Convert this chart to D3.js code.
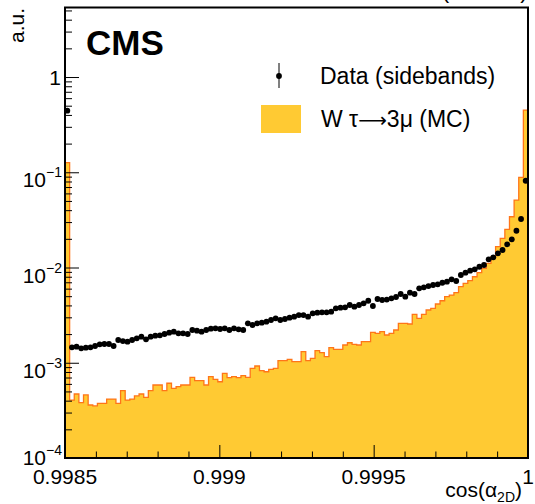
<!DOCTYPE html>
<html><head><meta charset="utf-8">
<script src="https://cdn.jsdelivr.net/npm/d3@7"></script>
<style>
body{margin:0;background:#fff}
svg{display:block}
text{font-family:"Liberation Sans",Arial,Helvetica,sans-serif;fill:#000}
</style>
</head><body>
<svg id="c" width="535" height="504"></svg>
<script>
// ---------------- data ----------------
const xMin = 0.9985, xMax = 1.0, nBins = 100;

// Data (sidebands), one value per bin
const dataValues = [
0.443, 1.452e-3, 1.474e-3, 1.419e-3, 1.439e-3, 1.452e-3, 1.500e-3, 1.563e-3, 1.574e-3, 1.574e-3,
1.500e-3, 1.734e-3, 1.690e-3, 1.663e-3, 1.734e-3, 1.806e-3, 1.877e-3, 1.762e-3, 1.877e-3, 1.923e-3,
1.941e-3, 2.004e-3, 2.068e-3, 2.118e-3, 2.037e-3, 2.037e-3, 2.004e-3, 2.208e-3, 2.170e-3, 2.118e-3,
2.208e-3, 2.278e-3, 2.301e-3, 2.262e-3, 2.301e-3, 2.208e-3, 2.301e-3, 2.244e-3, 2.208e-3, 2.594e-3,
2.490e-3, 2.594e-3, 2.634e-3, 2.698e-3, 2.812e-3, 2.931e-3, 2.812e-3, 2.880e-3, 2.972e-3, 3.045e-3,
3.170e-3, 3.170e-3, 3.045e-3, 3.304e-3, 3.354e-3, 3.387e-3, 3.387e-3, 3.436e-3, 3.730e-3, 3.784e-3,
3.821e-3, 4.040e-3, 3.877e-3, 4.040e-3, 4.210e-3, 4.480e-3, 3.945e-3, 4.670e-3, 4.560e-3, 4.610e-3,
4.750e-3, 4.900e-3, 5.270e-3, 4.940e-3, 5.440e-3, 5.270e-3, 6.050e-3, 6.200e-3, 6.390e-3, 6.550e-3,
6.660e-3, 6.920e-3, 7.100e-3, 7.520e-3, 7.220e-3, 8.340e-3, 8.820e-3, 9.260e-3, 9.570e-3, 1.019e-2,
1.062e-2, 1.219e-2, 1.279e-2, 1.409e-2, 1.527e-2, 1.752e-2, 1.977e-2, 2.433e-2, 3.230e-2, 8.150e-2
];

// W tau->3mu (MC), one value per bin
const mcValues = [
0.126, 4.06e-4, 4.70e-4, 3.81e-4, 4.59e-4, 3.60e-4, 3.52e-4, 3.75e-4, 3.75e-4, 4.16e-4,
4.16e-4, 3.75e-4, 5.09e-4, 4.06e-4, 4.16e-4, 4.48e-4, 4.70e-4, 4.34e-4, 5.09e-4, 5.84e-4,
5.84e-4, 5.09e-4, 6.09e-4, 5.39e-4, 5.61e-4, 5.84e-4, 5.84e-4, 7.03e-4, 6.48e-4, 6.48e-4,
5.84e-4, 7.14e-4, 6.70e-4, 6.32e-4, 7.75e-4, 6.97e-4, 7.14e-4, 6.97e-4, 7.31e-4, 7.03e-4,
8.74e-4, 9.25e-4, 8.25e-4, 8.05e-4, 8.53e-4, 8.74e-4, 1.051e-3, 1.051e-3, 1.087e-3, 1.026e-3,
1.026e-3, 1.306e-3, 1.051e-3, 1.113e-3, 1.338e-3, 1.275e-3, 1.157e-3, 1.439e-3, 1.384e-3, 1.384e-3,
1.536e-3, 1.623e-3, 1.563e-3, 1.536e-3, 1.663e-3, 1.663e-3, 2.088e-3, 2.037e-3, 2.118e-3, 1.956e-3,
2.037e-3, 2.208e-3, 2.594e-3, 2.594e-3, 2.552e-3, 3.226e-3, 2.931e-3, 3.226e-3, 3.580e-3, 3.730e-3,
4.140e-3, 4.480e-3, 4.940e-3, 5.140e-3, 5.440e-3, 6.290e-3, 6.830e-3, 7.270e-3, 8.000e-3, 8.820e-3,
9.810e-3, 1.107e-2, 1.298e-2, 1.654e-2, 2.025e-2, 2.518e-2, 3.410e-2, 5.110e-2, 8.850e-2, 0.450
];

const xTickValues = [0.9985, 0.999, 0.9995, 1.0];
const xTickLabels = ["0.9985", "0.999", "0.9995", "1"];
const yTickValues = [1e-4, 1e-3, 1e-2, 1e-1, 1];
const yTickBase = ["10", "10", "10", "10", "1"];
const yTickExp = ["\u22124", "\u22123", "\u22122", "\u22121", ""];
const legendLabels = ["Data (sidebands)", ["W \u03c4", "\u27f6", "3\u03bc (MC)"]];
const yMaxValue = 5.37;

// ---------------- layout ----------------
const L = 65, R = 528, T = 7.5, B = 458;
const svg = d3.select("#c");
const x = d3.scaleLinear().domain([xMin, xMax]).range([L, R]);
const y = d3.scaleLog().domain([1e-4, yMaxValue]).range([B, T]);
const binW = (xMax - xMin) / nBins;
const edges = d3.range(nBins + 1).map(i => xMin + i * binW);

const fillCol = "#ffca33", lineCol = "#ff7518";

svg.append("defs").append("clipPath").attr("id", "plotclip")
  .append("rect").attr("x", L).attr("y", T).attr("width", R - L).attr("height", B - T);

// MC histogram (step)
const pts = [[x(edges[0]), y(1e-4)]];
mcValues.forEach((v, i) => {
  pts.push([x(edges[i]), y(v)]);
  pts.push([x(edges[i + 1]), y(v)]);
});
pts.push([x(edges[nBins]), y(1e-4)]);
const line = d3.line();
const g = svg.append("g").attr("clip-path", "url(#plotclip)");
g.append("path").attr("d", line(pts) + "Z").attr("fill", fillCol).attr("stroke", "none");
g.append("path").attr("d", line(pts)).attr("fill", "none")
  .attr("stroke", lineCol).attr("stroke-width", 1.3).attr("stroke-linejoin", "miter");

// Data points
g.selectAll("circle.d").data(dataValues).join("circle")
  .attr("class", "d")
  .attr("cx", (d, i) => x(edges[i] + binW / 2))
  .attr("cy", d => y(d))
  .attr("r", 2.9).attr("fill", "#000");

// ---------------- axes ----------------
const xMinor = d3.range(0, 16).map(i => xMin + i * 0.0001).filter(v => xTickValues.every(t => Math.abs(t - v) > 1e-9));
svg.append("g").attr("transform", `translate(0,${B})`)
  .call(d3.axisBottom(x).tickValues(xMinor).tickSize(-6.5).tickFormat(""))
  .call(a => a.select(".domain").remove())
  .call(a => a.selectAll("line").attr("stroke", "#000").attr("stroke-width", 1));
svg.append("g").attr("transform", `translate(0,${B})`)
  .call(d3.axisBottom(x).tickValues(xTickValues).tickSize(-13).tickFormat(""))
  .call(a => a.select(".domain").remove())
  .call(a => a.selectAll("line").attr("stroke", "#000").attr("stroke-width", 1));

svg.append("g").selectAll("text").data(xTickValues).join("text")
  .attr("x", d => x(d)).attr("y", 484)
  .attr("text-anchor", "middle").attr("font-size", 21)
  .text((d, i) => xTickLabels[i]);

const yMinor = [];
for (let e = -4; e <= 0; e++) {
  for (let m = 2; m <= 9; m++) {
    const v = m * Math.pow(10, e);
    if (v < yMaxValue) yMinor.push(v);
  }
}
svg.append("g").attr("transform", `translate(${L},0)`)
  .call(d3.axisLeft(y).tickValues(yMinor).tickSize(-7).tickFormat(""))
  .call(a => a.select(".domain").remove())
  .call(a => a.selectAll("line").attr("stroke", "#000").attr("stroke-width", 1));
svg.append("g").attr("transform", `translate(${L},0)`)
  .call(d3.axisLeft(y).tickValues(yTickValues).tickSize(-14).tickFormat(""))
  .call(a => a.select(".domain").remove())
  .call(a => a.selectAll("line").attr("stroke", "#000").attr("stroke-width", 1));

yTickValues.forEach((v, i) => {
  const t = svg.append("text").attr("text-anchor", "end").attr("font-size", 21);
  if (yTickExp[i]) {
    const lift = (i === 0) ? 8.5 : 0;
    t.attr("x", 62).attr("y", y(v) + 15 - lift);
    t.append("tspan").text(yTickBase[i]);
    t.append("tspan").attr("font-size", 14).attr("dy", -10).text(yTickExp[i]);
  } else {
    t.attr("x", 61).attr("y", y(v) + 7.5).text(yTickBase[i]);
  }
});

svg.append("rect").attr("x", L).attr("y", T).attr("width", R - L).attr("height", B - T)
  .attr("fill", "none").attr("stroke", "#000").attr("stroke-width", 2);

// ---------------- texts ----------------
svg.append("text").attr("x", 86).attr("y", 55).attr("font-size", 35)
  .attr("font-weight", "bold").text("CMS");

svg.append("text").attr("transform", "translate(24,8) rotate(-90)")
  .attr("text-anchor", "end").attr("font-size", 21).text("a.u.");

const xt = svg.append("text").attr("x", 522).attr("y", 497)
  .attr("text-anchor", "end").attr("font-size", 21);
xt.append("tspan").text("cos(\u03b1");
xt.append("tspan").attr("font-size", 14).attr("dy", 5).text("2D");
xt.append("tspan").attr("dy", -5).text(")");

svg.append("text").attr("x", 528).attr("y", -2).attr("text-anchor", "end")
  .attr("font-size", 23).text("(13 TeV)");

// legend
const lg = svg.append("g");
lg.append("line").attr("x1", 279).attr("x2", 279).attr("y1", 63).attr("y2", 88)
  .attr("stroke", "#000").attr("stroke-width", 1);
lg.append("circle").attr("cx", 279).attr("cy", 76).attr("r", 2.9).attr("fill", "#000");
lg.append("text").attr("x", 320).attr("y", 84).attr("font-size", 23).text(legendLabels[0]);
lg.append("rect").attr("x", 261).attr("y", 105).attr("width", 40).attr("height", 28)
  .attr("fill", fillCol);
const mt = lg.append("text").attr("x", 321).attr("y", 127).attr("font-size", 23);
mt.append("tspan").text(legendLabels[1][0]);
mt.append("tspan").attr("font-family", "DejaVu Sans").attr("font-size", 20).text(legendLabels[1][1]);
mt.append("tspan").text(legendLabels[1][2]);
</script>
</body></html>
